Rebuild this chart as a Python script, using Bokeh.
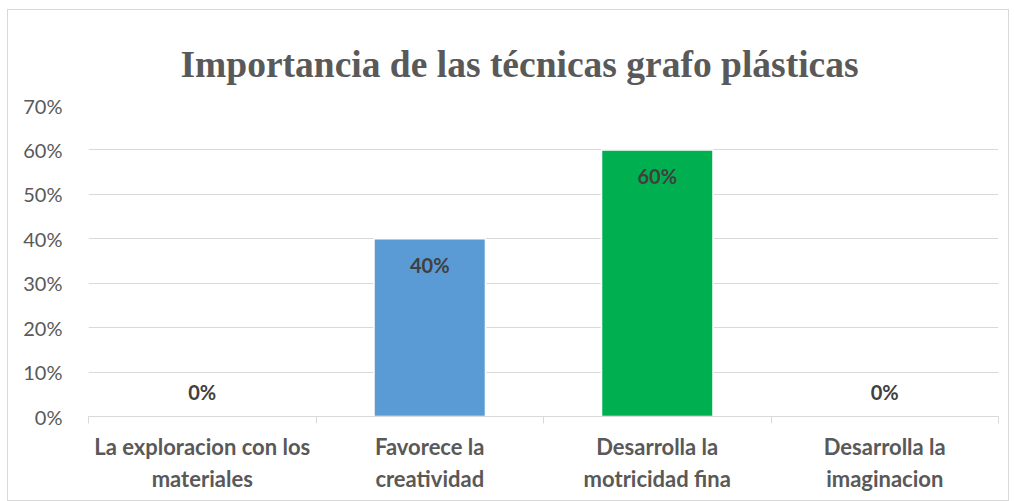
from bokeh.plotting import figure
from bokeh.models import ColumnDataSource, Range1d, FixedTicker, NumeralTickFormatter
from bokeh.embed import file_html
from bokeh.resources import INLINE
from bokeh.core.properties import value

# ---- data ----
title_text = "Importancia de las técnicas grafo plásticas"
categories = [
    "La exploracion con los\nmateriales",
    "Favorece la\ncreatividad",
    "Desarrolla la\nmotricidad fina",
    "Desarrolla la\nimaginacion",
]
values = [0.0, 0.40, 0.60, 0.0]
y_ticks = [0.0, 0.1, 0.2, 0.3, 0.4, 0.5, 0.6, 0.7]

# ---- styling ----
bar_colors = ["#5B9BD5", "#5B9BD5", "#00B050", "#5B9BD5"]
grid_color = "#D9D9D9"
text_grey = "#595959"
label_dark = "#404040"

xs = [i + 0.5 for i in range(len(categories))]
labels = [f"{round(v * 100):.0f}%" for v in values]
offsets = [26 if v > 0 else -25 for v in values]

src = ColumnDataSource(dict(x=xs, top=values, color=bar_colors,
                            label=labels, off=offsets))

p = figure(width=1002, height=492, output_backend="svg", toolbar_location=None,
           x_range=Range1d(0, len(categories)), y_range=Range1d(0, 0.7),
           min_border_left=80, min_border_right=12, min_border_top=95,
           min_border_bottom=86)
p.styles = {"margin-left": "7px", "margin-top": "9px",
            "border": "1px solid #D9D9D9"}
p.outline_line_color = None
p.background_fill_color = "white"
p.border_fill_color = "white"

p.title.text = title_text
p.title.align = "left"
p.title.offset = 92
p.title.standoff = 38
p.title.vertical_align = "top"
p.title.text_font = "Liberation Serif"
p.title.text_font_style = "bold"
p.title.text_font_size = "37.5px"
p.title.text_color = text_grey

p.vbar(x="x", top="top", width=0.49, fill_color="color", line_color="white",
       line_width=1.5, source=src)

p.text(x="x", y="top", text="label", y_offset="off", source=src,
       text_align="center", text_baseline="middle",
       text_font=value("Lato"), text_font_style="bold",
       text_font_size="20px", text_color=label_dark)

# y axis
p.yaxis.ticker = FixedTicker(ticks=y_ticks)
p.yaxis.formatter = NumeralTickFormatter(format="0%")
p.yaxis.axis_line_color = None
p.yaxis.major_tick_line_color = None
p.yaxis.minor_tick_line_color = None
p.yaxis.major_label_standoff = 20
p.yaxis.major_label_text_font = "Lato"
p.yaxis.major_label_text_font_size = "20px"
p.yaxis.major_label_text_color = text_grey

# x axis
p.xaxis.ticker = FixedTicker(ticks=xs, minor_ticks=list(range(len(categories) + 1)))
p.xaxis.major_label_overrides = {x: c for x, c in zip(xs, categories)}
p.xaxis.axis_line_color = grid_color
p.xaxis.major_tick_line_color = None
p.xaxis.minor_tick_line_color = grid_color
p.xaxis.minor_tick_in = 0
p.xaxis.minor_tick_out = 7
p.xaxis.major_label_standoff = 9
p.xaxis.major_label_text_font = "Lato"
p.xaxis.major_label_text_font_style = "bold"
p.xaxis.major_label_text_font_size = "22px"
p.xaxis.major_label_text_color = text_grey

p.xgrid.grid_line_color = None
p.ygrid.grid_line_color = grid_color
p.ygrid.grid_line_width = 1

open("out.html", "w").write(file_html(p, INLINE))
